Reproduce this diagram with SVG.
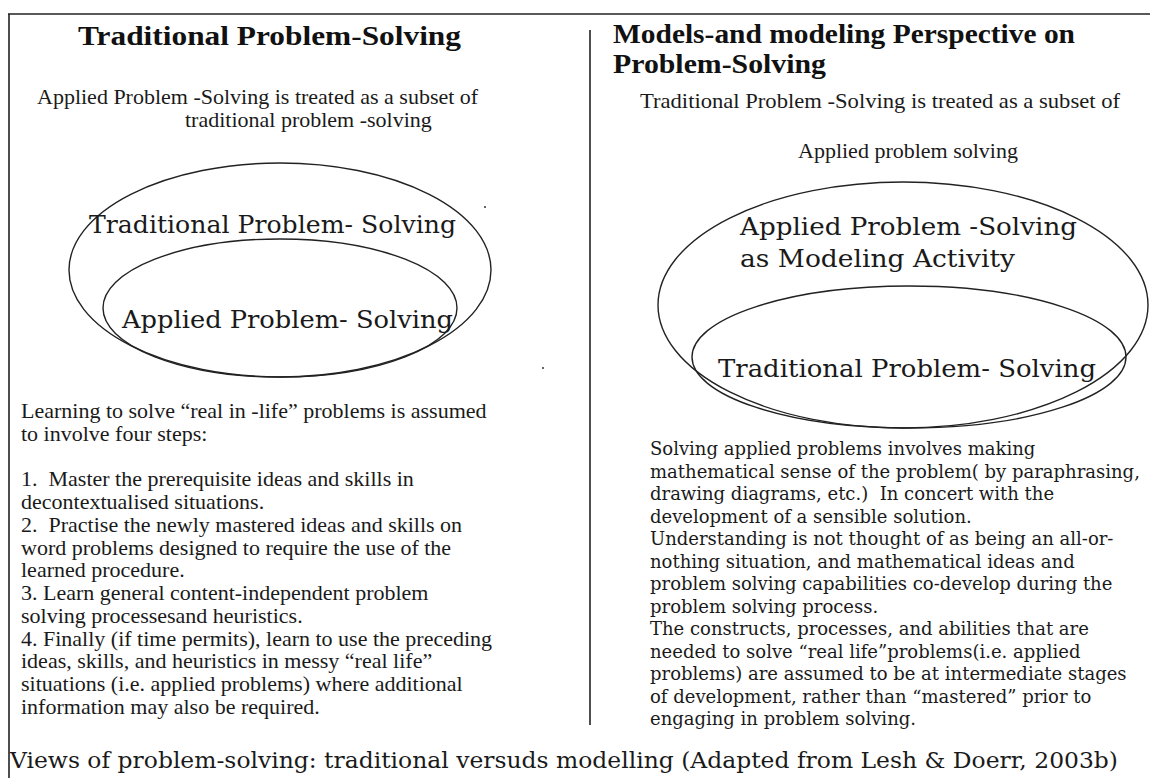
<svg xmlns="http://www.w3.org/2000/svg" width="1150" height="778" viewBox="0 0 1150 778">
<style>
.h{font-family:"Liberation Serif","Times New Roman",serif;font-weight:bold;font-size:27px;fill:#111}
.t{font-family:"Liberation Serif","Times New Roman",serif;font-size:22px;fill:#1a1a1a}
.c{font-family:"DejaVu Serif","Liberation Serif",serif;font-size:25px;fill:#1a1a1a}
.r{font-family:"DejaVu Serif","Liberation Serif",serif;font-size:18px;fill:#1a1a1a}
.cap{font-family:"DejaVu Serif","Liberation Serif",serif;font-size:22px;fill:#1a1a1a}
.ln{stroke:#222;stroke-width:1.6;fill:none}
.el{stroke:#222;stroke-width:1.4;fill:none}
</style>
<rect width="1150" height="778" fill="#fff"/>
<g id="frame">
<line class="ln" x1="8" y1="14" x2="1150" y2="14"/>
<line class="ln" x1="9" y1="14" x2="9" y2="778"/>
<line class="ln" x1="590" y1="30" x2="590" y2="725"/>
</g>
<g id="connectors"/>
<g id="left-heading">
<text class="h" x="78" y="45" textLength="383" lengthAdjust="spacingAndGlyphs">Traditional Problem-Solving</text>
<text class="t" x="37" y="104">Applied Problem -Solving is treated as a subset of</text>
<text class="t" x="185" y="127">traditional problem -solving</text>
</g>
<g id="left-venn">
<ellipse class="el" cx="280" cy="270" rx="211" ry="107"/>
<ellipse class="el" cx="280" cy="308" rx="177" ry="69"/>
<text class="c" x="89" y="233" textLength="367" lengthAdjust="spacingAndGlyphs">Traditional Problem- Solving</text>
<text class="c" x="122" y="328" textLength="331" lengthAdjust="spacingAndGlyphs">Applied Problem- Solving</text>
<circle cx="485" cy="207" r="1" fill="#333"/>
<circle cx="543" cy="368" r="1" fill="#333"/>
</g>
<g id="left-steps" class="t">
<text x="21" y="418">Learning to solve “real in -life” problems is assumed</text>
<text x="21" y="440.75">to involve four steps:</text>
<text x="21" y="486.25">1.&#160; Master the prerequisite ideas and skills in</text>
<text x="21" y="509">decontextualised situations.</text>
<text x="21" y="531.75">2.&#160; Practise the newly mastered ideas and skills on</text>
<text x="21" y="554.5">word problems designed to require the use of the</text>
<text x="21" y="577.25">learned procedure.</text>
<text x="21" y="600">3. Learn general content-independent problem</text>
<text x="21" y="622.75">solving processesand heuristics.</text>
<text x="21" y="645.5">4. Finally (if time permits), learn to use the preceding</text>
<text x="21" y="668.25">ideas, skills, and heuristics in messy “real life”</text>
<text x="21" y="691">situations (i.e. applied problems) where additional</text>
<text x="21" y="713.75">information may also be required.</text>
</g>
<g id="right-heading">
<text class="h" x="613" y="43" textLength="462" lengthAdjust="spacingAndGlyphs">Models-and modeling Perspective on</text>
<text class="h" x="613" y="73" textLength="213" lengthAdjust="spacingAndGlyphs">Problem-Solving</text>
<text class="t" x="640" y="108" textLength="480" lengthAdjust="spacingAndGlyphs">Traditional Problem -Solving is treated as a subset of</text>
<text class="t" x="798" y="158">Applied problem solving</text>
</g>
<g id="right-venn">
<ellipse class="el" cx="903" cy="305" rx="245" ry="123"/>
<ellipse class="el" cx="909" cy="357" rx="217" ry="71"/>
<text class="c" x="740" y="235" textLength="337" lengthAdjust="spacingAndGlyphs">Applied Problem -Solving</text>
<text class="c" x="740" y="267" textLength="275" lengthAdjust="spacingAndGlyphs">as Modeling Activity</text>
<text class="c" x="718" y="377" textLength="378" lengthAdjust="spacingAndGlyphs">Traditional Problem- Solving</text>
</g>
<g id="right-text" class="r">
<text x="650" y="455">Solving applied problems involves making</text>
<text x="650" y="477.5">mathematical sense of the problem( by paraphrasing,</text>
<text x="650" y="500">drawing diagrams, etc.)&#160; In concert with the</text>
<text x="650" y="522.5">development of a sensible solution.</text>
<text x="650" y="545">Understanding is not thought of as being an all-or-</text>
<text x="650" y="567.5">nothing situation, and mathematical ideas and</text>
<text x="650" y="590">problem solving capabilities co-develop during the</text>
<text x="650" y="612.5">problem solving process.</text>
<text x="650" y="635">The constructs, processes, and abilities that are</text>
<text x="650" y="657.5">needed to solve “real life”problems(i.e. applied</text>
<text x="650" y="680">problems) are assumed to be at intermediate stages</text>
<text x="650" y="702.5">of development, rather than “mastered” prior to</text>
<text x="650" y="725">engaging in problem solving.</text>
</g>
<g id="caption">
<text class="cap" x="10" y="768" textLength="1108" lengthAdjust="spacingAndGlyphs">Views of problem-solving: traditional versuds modelling (Adapted from Lesh &amp; Doerr, 2003b)</text>
</g>
</svg>
